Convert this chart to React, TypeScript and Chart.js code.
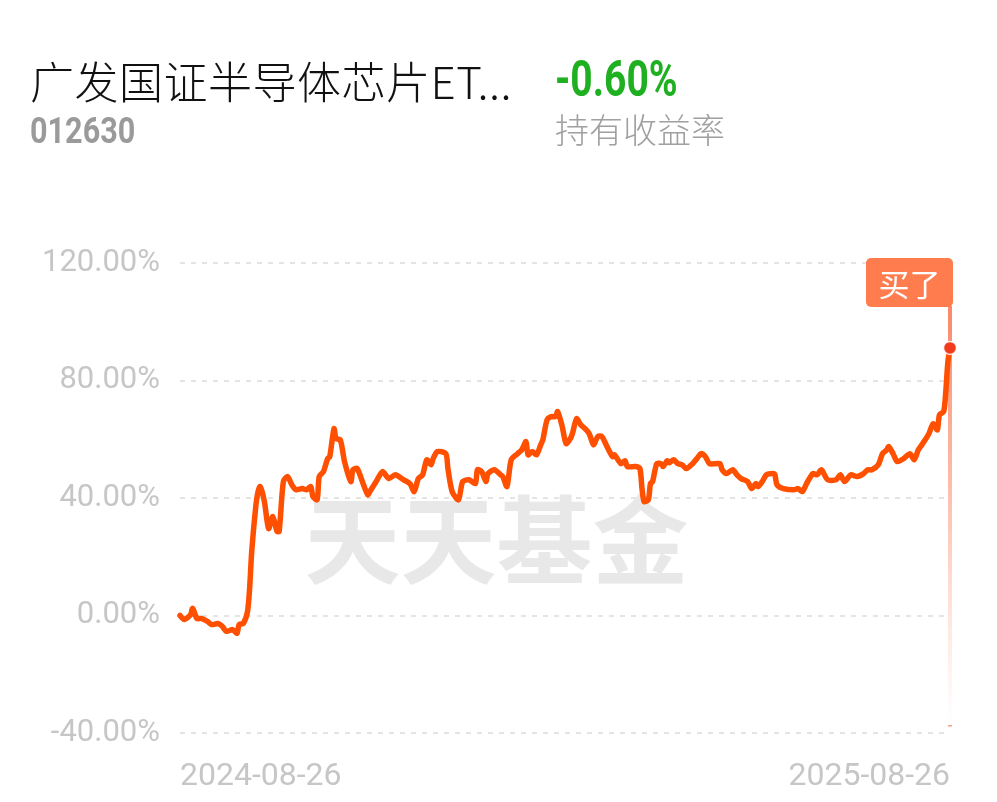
import React, { useEffect, useRef } from 'react';
import { Chart, registerables } from 'chart.js';

Chart.register(...registerables);

// Day offsets since 2024-08-26
const days = [
  0, 2, 5, 6, 8, 10, 13, 15, 18, 20, 22, 25, 27, 28, 30, 32, 33, 34, 36, 37,
  38, 40, 42, 44, 46, 47, 49, 51, 53, 55, 58, 60, 62, 63, 65, 66, 68, 70, 71, 73,
  74, 76, 78, 81, 82, 84, 87, 89, 90, 93, 96, 99, 102, 106, 109, 111, 113, 115, 117, 119,
  120, 122, 126, 127, 129, 132, 134, 137, 140, 141, 143, 145, 146, 149, 152, 153, 155, 157, 160, 162,
  164, 165, 167, 169, 171, 172, 174, 176, 178, 179, 181, 183, 185, 186, 188, 190, 192, 194, 196, 198,
  200, 202, 205, 206, 209, 211, 212, 216, 218, 219, 220, 222, 223, 224, 226, 228, 229, 231, 232, 234,
  236, 238, 240, 243, 245, 247, 249, 251, 254, 256, 257, 259, 262, 264, 266, 269, 271, 273, 274, 276,
  278, 281, 282, 283, 286, 291, 293, 295, 297, 300, 302, 304, 307, 311, 313, 315, 318, 321, 324, 326,
  328, 331, 333, 335, 336, 338, 340, 343, 346, 348, 350, 352, 355, 357, 359, 360, 362, 363, 364, 365,
];

// Holding return (%)
const returns = [
  0.0, -1.4, 0.3, 2.4, -1.0, -1.0, -2.0, -3.1, -2.7, -3.7, -5.4, -4.8, -6.1, -3.1, -2.7, 1.4, 9.2, 21.8, 37.7, 42.2,
  43.9, 38.8, 29.6, 33.7, 28.6, 28.6, 45.6, 47.3, 44.5, 42.8, 43.2, 42.8, 43.9, 40.5, 39.4, 47.3, 49.0, 53.4, 54.1, 63.6,
  60.2, 59.8, 52.4, 45.6, 49.6, 50.0, 44.5, 41.1, 42.2, 45.6, 49.0, 46.6, 47.9, 46.2, 44.9, 42.2, 46.6, 47.9, 53.0, 51.3,
  53.4, 55.8, 55.1, 50.0, 42.2, 39.4, 45.6, 46.2, 44.9, 49.6, 49.0, 45.6, 48.3, 49.6, 47.9, 47.3, 43.9, 53.0, 55.1, 56.4,
  59.2, 54.7, 55.8, 54.7, 58.1, 59.8, 66.6, 67.7, 67.7, 69.4, 64.9, 58.5, 60.2, 61.9, 67.0, 64.9, 63.6, 61.9, 58.1, 60.9,
  60.9, 58.1, 54.1, 54.7, 51.7, 52.7, 50.7, 50.7, 50.0, 43.2, 38.8, 39.4, 44.9, 45.6, 51.7, 51.7, 50.7, 52.7, 52.0, 53.0,
  51.7, 51.3, 50.0, 51.7, 53.4, 55.1, 54.1, 51.7, 51.7, 51.7, 49.6, 48.3, 49.6, 47.9, 46.6, 45.6, 43.2, 44.9, 43.9, 45.6,
  47.9, 48.3, 47.9, 44.5, 43.2, 42.8, 43.2, 42.2, 44.9, 48.3, 47.9, 49.6, 46.2, 46.2, 47.9, 45.6, 47.9, 47.3, 48.3, 49.6,
  49.6, 51.3, 55.1, 56.4, 57.5, 55.1, 52.4, 53.4, 55.1, 53.0, 56.4, 58.5, 61.9, 65.3, 63.2, 68.3, 69.4, 76.2, 86.4, 91.1,
];

const xTickLabels = ['2024-08-26', '2025-08-26'];
const yTickValues = [-40, 0, 40, 80, 120];

const fundName = '广发国证半导体芯片ET...';
const fundCode = '012630';
const holdReturn = '-0.60%';
const holdReturnLabel = '持有收益率';
const buyLabel = '买了';
const watermark = '天天基金';

const LINE_COLOR = '#ff4f00';

export default function App() {
  const canvasRef = useRef<HTMLCanvasElement | null>(null);

  useEffect(() => {
    const canvas = canvasRef.current;
    if (!canvas) return;
    const lastIndex = returns.length - 1;

    const watermarkPlugin = {
      id: 'watermarkAndMarker',
      beforeDatasetsDraw(chart: any) {
        const { ctx, chartArea } = chart;
        ctx.save();
        ctx.font = 'bold 96px "Noto Sans CJK SC", sans-serif';
        ctx.fillStyle = '#e8e8e8';
        ctx.textAlign = 'center';
        ctx.textBaseline = 'middle';
        ctx.fillText(watermark, chart.width / 2 - 2, 540);
        // vertical marker line
        const meta = chart.getDatasetMeta(0);
        const pt = meta.data[lastIndex];
        if (pt) {
          const x = pt.x;
          const top = chartArea.top + 43;
          const bottom = chartArea.bottom - 8;
          const g = ctx.createLinearGradient(0, top, 0, bottom);
          g.addColorStop(0, 'rgba(250,130,95,0.95)');
          g.addColorStop(0.5, 'rgba(250,150,120,0.55)');
          g.addColorStop(1, 'rgba(255,180,160,0.0)');
          ctx.fillStyle = g;
          ctx.fillRect(x - 2, top, 4, bottom - top);
          ctx.fillStyle = 'rgba(250,120,90,0.7)';
          ctx.fillRect(x - 2, bottom, 4, 1.5);
        }
        ctx.restore();
      },
      afterDatasetsDraw(chart: any) {
        const { ctx, chartArea } = chart;
        const meta = chart.getDatasetMeta(0);
        const pt = meta.data[lastIndex];
        if (!pt) return;
        const x = pt.x;
        const boxTop = chartArea.top - 5;
        const boxH = 49;
        const boxLeft = x - 84;
        const boxW = 87;
        ctx.save();
        ctx.fillStyle = '#ff7c4f';
        ctx.beginPath();
        if (ctx.roundRect) ctx.roundRect(boxLeft, boxTop, boxW, boxH, 5);
        else ctx.rect(boxLeft, boxTop, boxW, boxH);
        ctx.fill();
        ctx.fillStyle = '#ffffff';
        ctx.font = '31px "Noto Sans CJK SC", sans-serif';
        ctx.textAlign = 'center';
        ctx.textBaseline = 'middle';
        ctx.fillText(buyLabel, boxLeft + boxW / 2, boxTop + boxH / 2 + 2);
        ctx.restore();
      },
    };

    const chart = new Chart(canvas, {
      type: 'line',
      data: {
        datasets: [
          {
            data: days.map((d, i) => ({ x: d, y: returns[i] })),
            borderColor: LINE_COLOR,
            borderWidth: 5.5,
            tension: 0.25,
            fill: false,
            clip: false,
            pointRadius: (c: any) => (c.dataIndex === lastIndex ? 6.5 : 0),
            pointBackgroundColor: '#f23a1c',
            pointBorderColor: 'rgba(255,255,255,0.85)',
            pointBorderWidth: 1.5,
            borderJoinStyle: 'round',
            borderCapStyle: 'round',
          },
        ],
      },
      options: {
        responsive: false,
        animation: false,
        devicePixelRatio: 1,
        layout: { padding: { top: 263, right: 47, bottom: 0, left: 0 } },
        plugins: {
          legend: { display: false },
          tooltip: { enabled: false },
        },
        scales: {
          x: {
            type: 'linear',
            min: days[0],
            max: days[days.length - 1],
            grid: { display: false },
            border: { display: false },
            afterBuildTicks: (s: any) => {
              s.ticks = [{ value: days[0] }, { value: days[days.length - 1] }];
            },
            afterFit: (s: any) => {
              s.height = 69;
            },
            ticks: {
              align: 'inner',
              maxRotation: 0,
              autoSkip: false,
              color: '#c6c6c6',
              padding: 17,
              font: { size: 32, family: 'Roboto' },
              callback: (v: any) => (v === days[0] ? xTickLabels[0] : xTickLabels[1]),
            },
          },
          y: {
            min: yTickValues[0],
            max: yTickValues[yTickValues.length - 1],
            afterBuildTicks: (s: any) => {
              s.ticks = yTickValues.map((v) => ({ value: v }));
            },
            afterFit: (s: any) => {
              s.width = 180;
            },
            grid: { color: '#e4e4e4', lineWidth: 2, drawTicks: false },
            border: { display: false, dash: [5, 6] },
            ticks: {
              color: '#c6c6c6',
              padding: 20,
              font: { size: 31, family: 'Roboto' },
              callback: (v: any) => Number(v).toFixed(2) + '%',
            },
          },
        },
      },
      plugins: [watermarkPlugin],
    } as any);

    return () => chart.destroy();
  }, []);

  return (
    <div
      style={{
        position: 'absolute',
        left: 0,
        top: 0,
        width: 997,
        height: 802,
        background: '#ffffff',
        overflow: 'hidden',
      }}
    >
      <canvas
        ref={canvasRef}
        width={997}
        height={802}
        style={{ position: 'absolute', left: 0, top: 0, width: 997, height: 802 }}
      />
      <div
        style={{
          position: 'absolute',
          left: 30,
          top: 58,
          fontSize: 44,
          lineHeight: '44px',
          letterSpacing: '0.5px',
          fontFamily: '"Noto Sans CJK SC", sans-serif',
          fontWeight: 300,
          color: '#111111',
          whiteSpace: 'nowrap',
        }}
      >
        {fundName}
      </div>
      <div
        style={{
          position: 'absolute',
          left: 30,
          top: 113,
          fontSize: 36,
          lineHeight: '36px',
          fontFamily: 'Roboto, sans-serif',
          fontWeight: 700,
          color: '#9a9a9a',
          whiteSpace: 'nowrap',
          transform: 'scaleX(0.85)',
          transformOrigin: 'left top',
        }}
      >
        {fundCode}
      </div>
      <div
        style={{
          position: 'absolute',
          left: 555,
          top: 54,
          fontSize: 50,
          lineHeight: '50px',
          fontFamily: 'Roboto, sans-serif',
          fontWeight: 700,
          color: '#1fb022',
          whiteSpace: 'nowrap',
          transform: 'scaleX(0.78)',
          transformOrigin: 'left top',
        }}
      >
        {holdReturn}
      </div>
      <div
        style={{
          position: 'absolute',
          left: 555,
          top: 112,
          fontSize: 34,
          lineHeight: '34px',
          fontFamily: '"Noto Sans CJK SC", sans-serif',
          fontWeight: 300,
          color: '#a0a0a0',
          whiteSpace: 'nowrap',
        }}
      >
        {holdReturnLabel}
      </div>
    </div>
  );
}
